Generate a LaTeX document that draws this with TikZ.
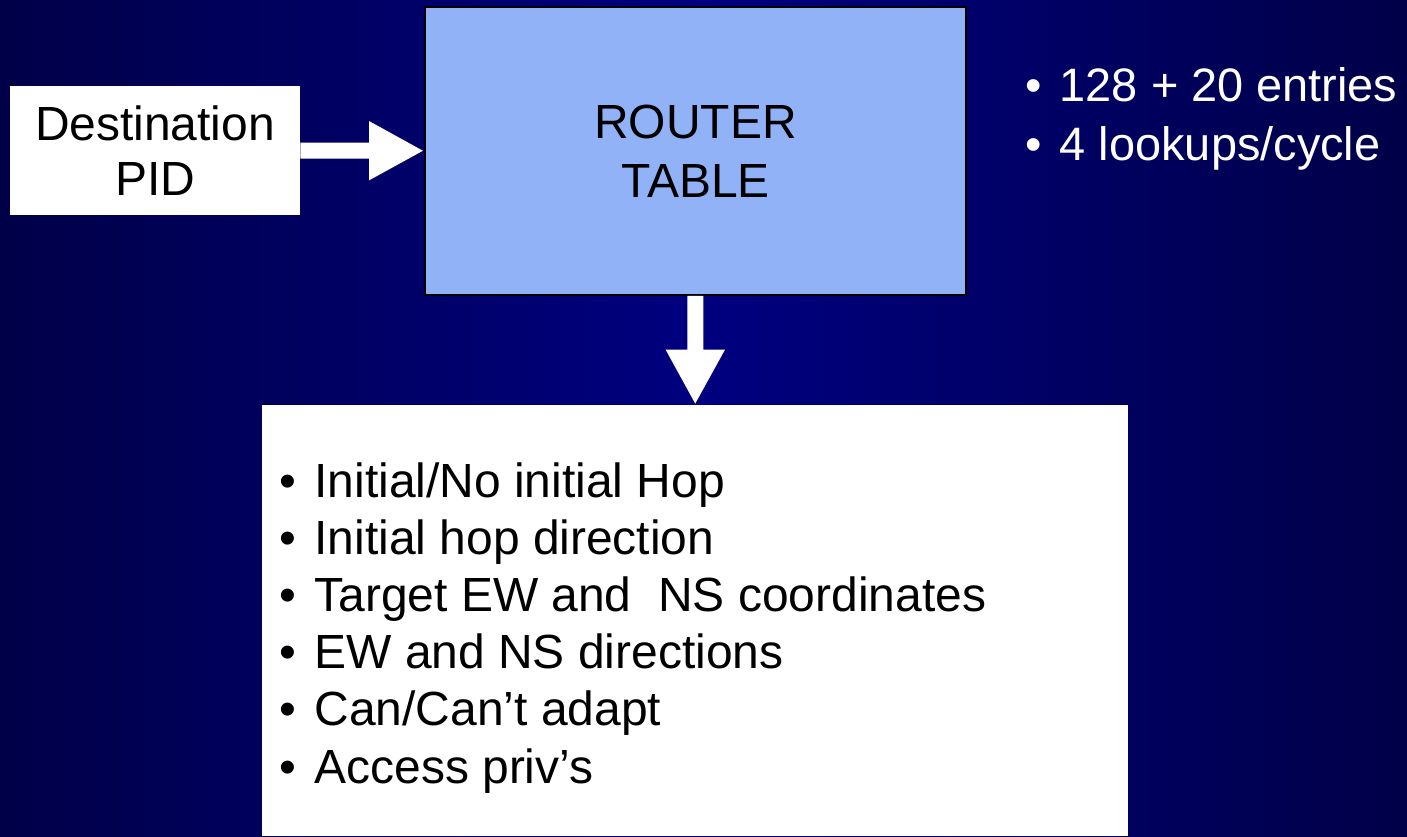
\documentclass[tikz,border=0pt]{standalone}
\usepackage{fontspec}
\setmainfont{Liberation Sans}
\usetikzlibrary{arrows.meta}
\definecolor{bgedge}{RGB}{0,0,72}
\definecolor{bgmid}{RGB}{0,0,128}
\definecolor{tableblue}{RGB}{146,178,247}
\newcommand{\bul}{•\hspace{0.1cm} }

\begin{document}
\begin{tikzpicture}[x=0.02cm,y=-0.02cm,
    txt/.style={font=\fontsize{27.3pt}{33pt}\selectfont},
    whitebox/.style={rectangle,fill=white,inner sep=0pt},
    fat/.style={white,line width=0.32cm,-{Triangle[width=1.1cm,length=1.1cm]}},
    item/.style={txt,anchor=base west,inner sep=0pt}]

      \useasboundingbox (0,0) rectangle (1407,836);
      \shade[left color=bgedge,right color=bgedge,middle color=bgmid] (0,0) rectangle (1407,836);

      \node[whitebox,minimum width=5.8cm,minimum height=2.6cm,align=center,font=\fontsize{27.3pt}{31.3pt}\selectfont] (dest) at (155,150.5){Destination\\PID};
      \node[rectangle,fill=tableblue,draw=black,line width=0.04cm,minimum width=10.82cm,minimum height=5.76cm,align=center,font=\fontsize{27.3pt}{33.6pt}\selectfont] (router) at (695.5,151){ROUTER\\TABLE};
      \node[whitebox,minimum width=17.32cm,minimum height=8.62cm] (list) at (695,620.5){};

      \draw[fat] (dest) -- (router);
      \draw[fat] (router) -- (list);

      \node[item,white,font=\fontsize{26.7pt}{33pt}\selectfont] (entries) at (1025,101.7){\bul 128 + 20 entries};
      \node[item,white,font=\fontsize{26.7pt}{33pt}\selectfont] (lookups) at (1025,160){\bul 4 lookups/cycle};

      % contents of a table entry
      \node[item] (hop) at (279,497){\bul Initial/No initial Hop};
      \node[item] (hopdir) at (279,554.2){\bul Initial hop direction};
      \node[item] (target) at (279,611.4){\bul Target EW and\ \ NS coordinates};
      \node[item] (dirs) at (279,668.6){\bul EW and NS directions};
      \node[item] (adapt) at (279,725.8){\bul Can/Can’t adapt};
      \node[item] (priv) at (279,783){\bul Access priv’s};

\end{tikzpicture}
\end{document}
